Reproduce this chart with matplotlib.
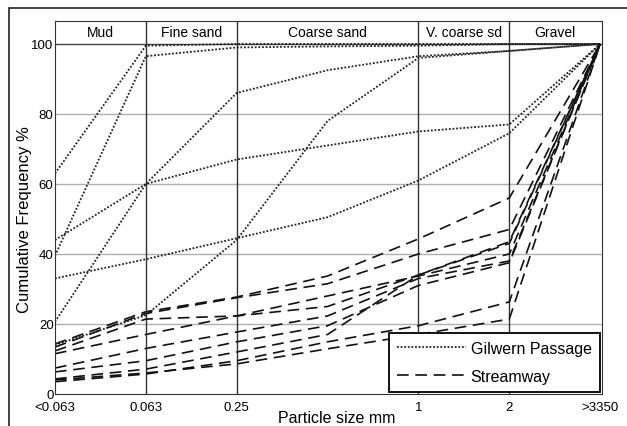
import matplotlib.pyplot as plt
from matplotlib.patches import Rectangle

plt.rcParams['font.family'] = ['Liberation Sans', 'DejaVu Sans']

# particle size classes (0.5 mm point is unlabelled)
sizes = ["<0.063", "0.063", "0.25", "", "1", "2", ">3350"]
classes = ["Mud", "Fine sand", "Coarse sand", "V. coarse sd", "Gravel"]
class_edges = [0, 1, 2, 4, 5, 6]

# Gilwern Passage samples (cumulative %)
gilwern = [
    [63, 99.5, 100, 100, 100, 100, 100],
    [39.5, 96.5, 99, 99.3, 99.5, 100, 100],
    [20.6, 60, 86, 92.5, 96.5, 98, 100],
    [44, 60, 67, 71, 75, 77, 100],
    [33, 38.5, 44.5, 50.5, 61, 74.5, 100],
    [14, 22.5, 44, 78, 96, 98, 100],
]

# Streamway samples (cumulative %)
streamway = [
    [14.3, 23.5, 27.7, 33.7, 44.3, 56, 100],
    [13.4, 23, 27.5, 31.5, 40, 47, 100],
    [12.3, 21.4, 22.3, 25, 34, 43.5, 100],
    [11.5, 17, 22.3, 28, 33.7, 40, 100],
    [7.4, 13, 17.7, 22.3, 33, 38, 100],
    [6.3, 9.5, 14.9, 19.5, 31, 37.5, 100],
    [4.3, 7.1, 12, 17, 34, 43, 100],
    [3.5, 5.7, 9.5, 14.9, 19.5, 26.3, 100],
    [4, 6, 8.6, 12.9, 17, 21.4, 100],
]

x = list(range(len(sizes)))

fig = plt.figure(figsize=(6.27, 4.27), dpi=100)
ax = fig.add_axes([0.0877, 0.075, 0.8724, 0.873])

# grid and class boundaries
for yv in [20, 40, 60, 80]:
    ax.axhline(yv, color="#b0b0b0", lw=1.0, zorder=0)
ax.axhline(100, color="#444444", lw=1.0, zorder=0)
for xv in class_edges[1:-1]:
    ax.axvline(xv, color="#333333", lw=1.0, zorder=0)

for i, s in enumerate(gilwern):
    ax.plot(x, s, color="#222222", lw=1.3, linestyle=(0, (1.0, 1.0)),
            label="Gilwern Passage" if i == 0 else None)
for i, s in enumerate(streamway):
    ax.plot(x, s, color="#111111", lw=1.2, linestyle=(0, (7, 4)),
            label="Streamway" if i == 0 else None)

# class names in the header band
for name, a, b in zip(classes, class_edges[:-1], class_edges[1:]):
    ax.text((a + b) / 2, 103.3, name, ha="center", va="center", fontsize=10)

ax.set_xlim(0, 6.02)
ax.set_ylim(0, 106.5)
ax.set_xticks(x)
ax.set_xticklabels(sizes, fontsize=9.5)
ax.set_yticks([0, 20, 40, 60, 80, 100])
ax.tick_params(axis="x", length=0, pad=5, labelsize=9.5)
ax.tick_params(axis="y", length=0, pad=1, labelsize=9.5)
ax.set_xlabel("Particle size mm", fontsize=11.5)
ax.xaxis.set_label_coords(0.515, -0.043, transform=ax.transAxes)
ax.xaxis.label.set_va("top")
ax.set_ylabel("Cumulative Frequency %", fontsize=12)
ax.yaxis.set_label_coords(-0.055, 0.47, transform=ax.transAxes)
ax.yaxis.label.set_va("center")
for sp in ax.spines.values():
    sp.set_color("#333333")

leg = ax.legend(loc="lower right", fontsize=11.5, fancybox=False,
                edgecolor="black", framealpha=1, borderaxespad=0.15,
                handlelength=4.3, labelspacing=0.8, borderpad=0.5,
                handletextpad=0.3)
leg.get_frame().set_linewidth(1.3)

# outer frame around the figure
fig.patches.append(Rectangle((9 / 627, -0.1), 1.2, (427 - 9) / 427 + 0.1,
                             transform=fig.transFigure, fill=False,
                             edgecolor="#222222", lw=1.2))

fig.savefig("out.png", dpi=100)
